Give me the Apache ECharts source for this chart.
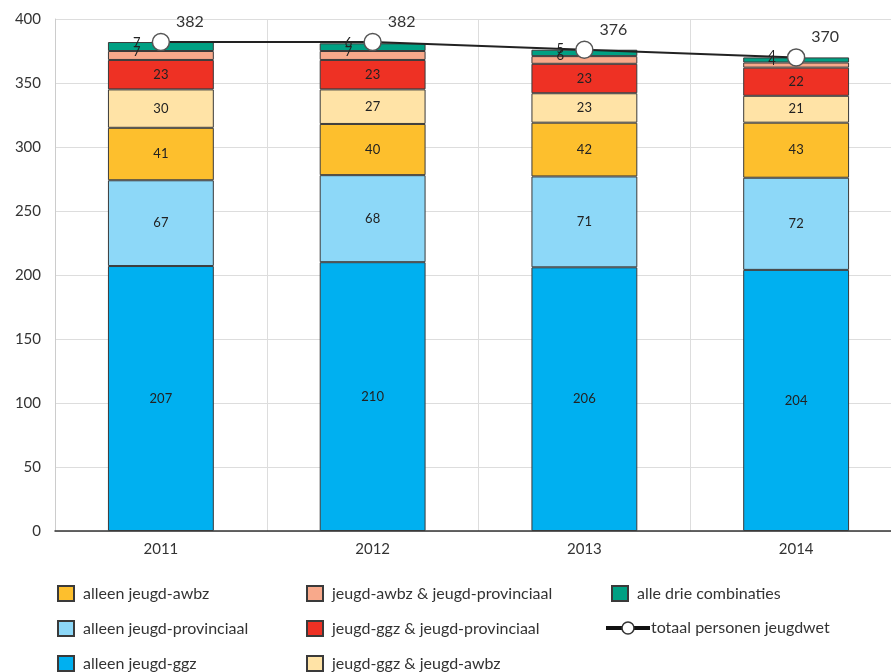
<!DOCTYPE html>
<html><head><meta charset="utf-8">
<script src="https://cdn.jsdelivr.net/npm/echarts@6/dist/echarts.min.js"></script>
<style>html,body{margin:0;padding:0;background:#fff;overflow:hidden}#c{width:902px;height:672px}</style>
</head><body><div id="c"></div>
<script>
const years = ['2011','2012','2013','2014'];
const alleenGgz = [207,210,206,204];
const alleenProv = [67,68,71,72];
const alleenAwbz = [41,40,42,43];
const ggzAwbz = [30,27,23,21];
const ggzProv = [23,23,23,22];
const awbzProv = [7,7,6,4];
const alleDrie = [7,6,5,4];
const totaal = [382,382,376,370];

const FONT = 'Lato';
const chart = echarts.init(document.getElementById('c'));
function barSeries(name, data, color, small){
  return {
    name, type:'bar', stack:'a', data, barWidth:'50%',
    itemStyle:{color, borderColor:'#3a3a3a', borderWidth:1},
    label:{show:true, position:'inside', fontFamily:FONT, fontSize:13, color:'#222',
      offset: small ? [-24,-4] : [0,0]},
    z:2
  };
}
const legendText = {fontFamily:FONT, fontSize:16, color:'#333'};
const legendPos = [
  ['alleen jeugd-awbz',57,585],
  ['alleen jeugd-provinciaal',57,620],
  ['alleen jeugd-ggz',57,655],
  ['jeugd-awbz & jeugd-provinciaal',306,585],
  ['jeugd-ggz & jeugd-provinciaal',306,620],
  ['jeugd-ggz & jeugd-awbz',306,655],
  ['alle drie combinaties',611,585],
  ['totaal personen jeugdwet',604,620]
];
const legends = legendPos.map(([n,x,y]) => {
  const isLine = n.startsWith('totaal');
  return {
    left:x, top:y, padding:0, itemWidth: isLine ? 44 : 16, itemHeight:15,
    itemGap:0, textStyle:Object.assign({padding:[0,0,0,isLine?-4:4]}, legendText),
    data:[isLine ? {name:n, lineStyle:{width:4, color:'#111'}, itemStyle:{borderColor:'#333', borderWidth:1.5}} : {name:n, icon:'rect'}]
  };
});
chart.setOption({
  animation:false,
  textStyle:{fontFamily:FONT},
  grid:{left:55, right:0, top:19, bottom:141},
  xAxis:{type:'category', data:years,
    axisLine:{lineStyle:{color:'#333', width:1.5}},
    axisTick:{alignWithLabel:true, length:6, lineStyle:{color:'#333'}},
    axisLabel:{fontFamily:FONT, fontSize:15, color:'#333', margin:11},
    splitLine:{show:true, lineStyle:{color:'#ddd'}}
  },
  yAxis:{type:'value', min:0, max:400, interval:50,
    axisLine:{show:true, lineStyle:{color:'#ccc'}},
    axisTick:{show:false},
    axisLabel:{fontFamily:FONT, fontSize:15, color:'#333', margin:14},
    splitLine:{lineStyle:{color:'#ddd'}}
  },
  legend: legends,
  series:[
    barSeries('alleen jeugd-ggz', alleenGgz, '#00B0F0'),
    barSeries('alleen jeugd-provinciaal', alleenProv, '#8DD8F8'),
    barSeries('alleen jeugd-awbz', alleenAwbz, '#FDBF2D'),
    barSeries('jeugd-ggz & jeugd-awbz', ggzAwbz, '#FFE3A6'),
    barSeries('jeugd-ggz & jeugd-provinciaal', ggzProv, '#EE3124'),
    barSeries('jeugd-awbz & jeugd-provinciaal', awbzProv, '#F8A98B', true),
    barSeries('alle drie combinaties', alleDrie, '#00A083', true),
    {name:'totaal personen jeugdwet', type:'line', data:totaal, z:5,
     symbol:'circle', symbolSize:17,
     lineStyle:{color:'#222', width:2},
     itemStyle:{color:'#fff', borderColor:'#555', borderWidth:1.5},
     label:{show:true, position:'top', offset:[29,2], fontFamily:FONT, fontSize:16, color:'#333'}}
  ]
});
</script></body></html>
